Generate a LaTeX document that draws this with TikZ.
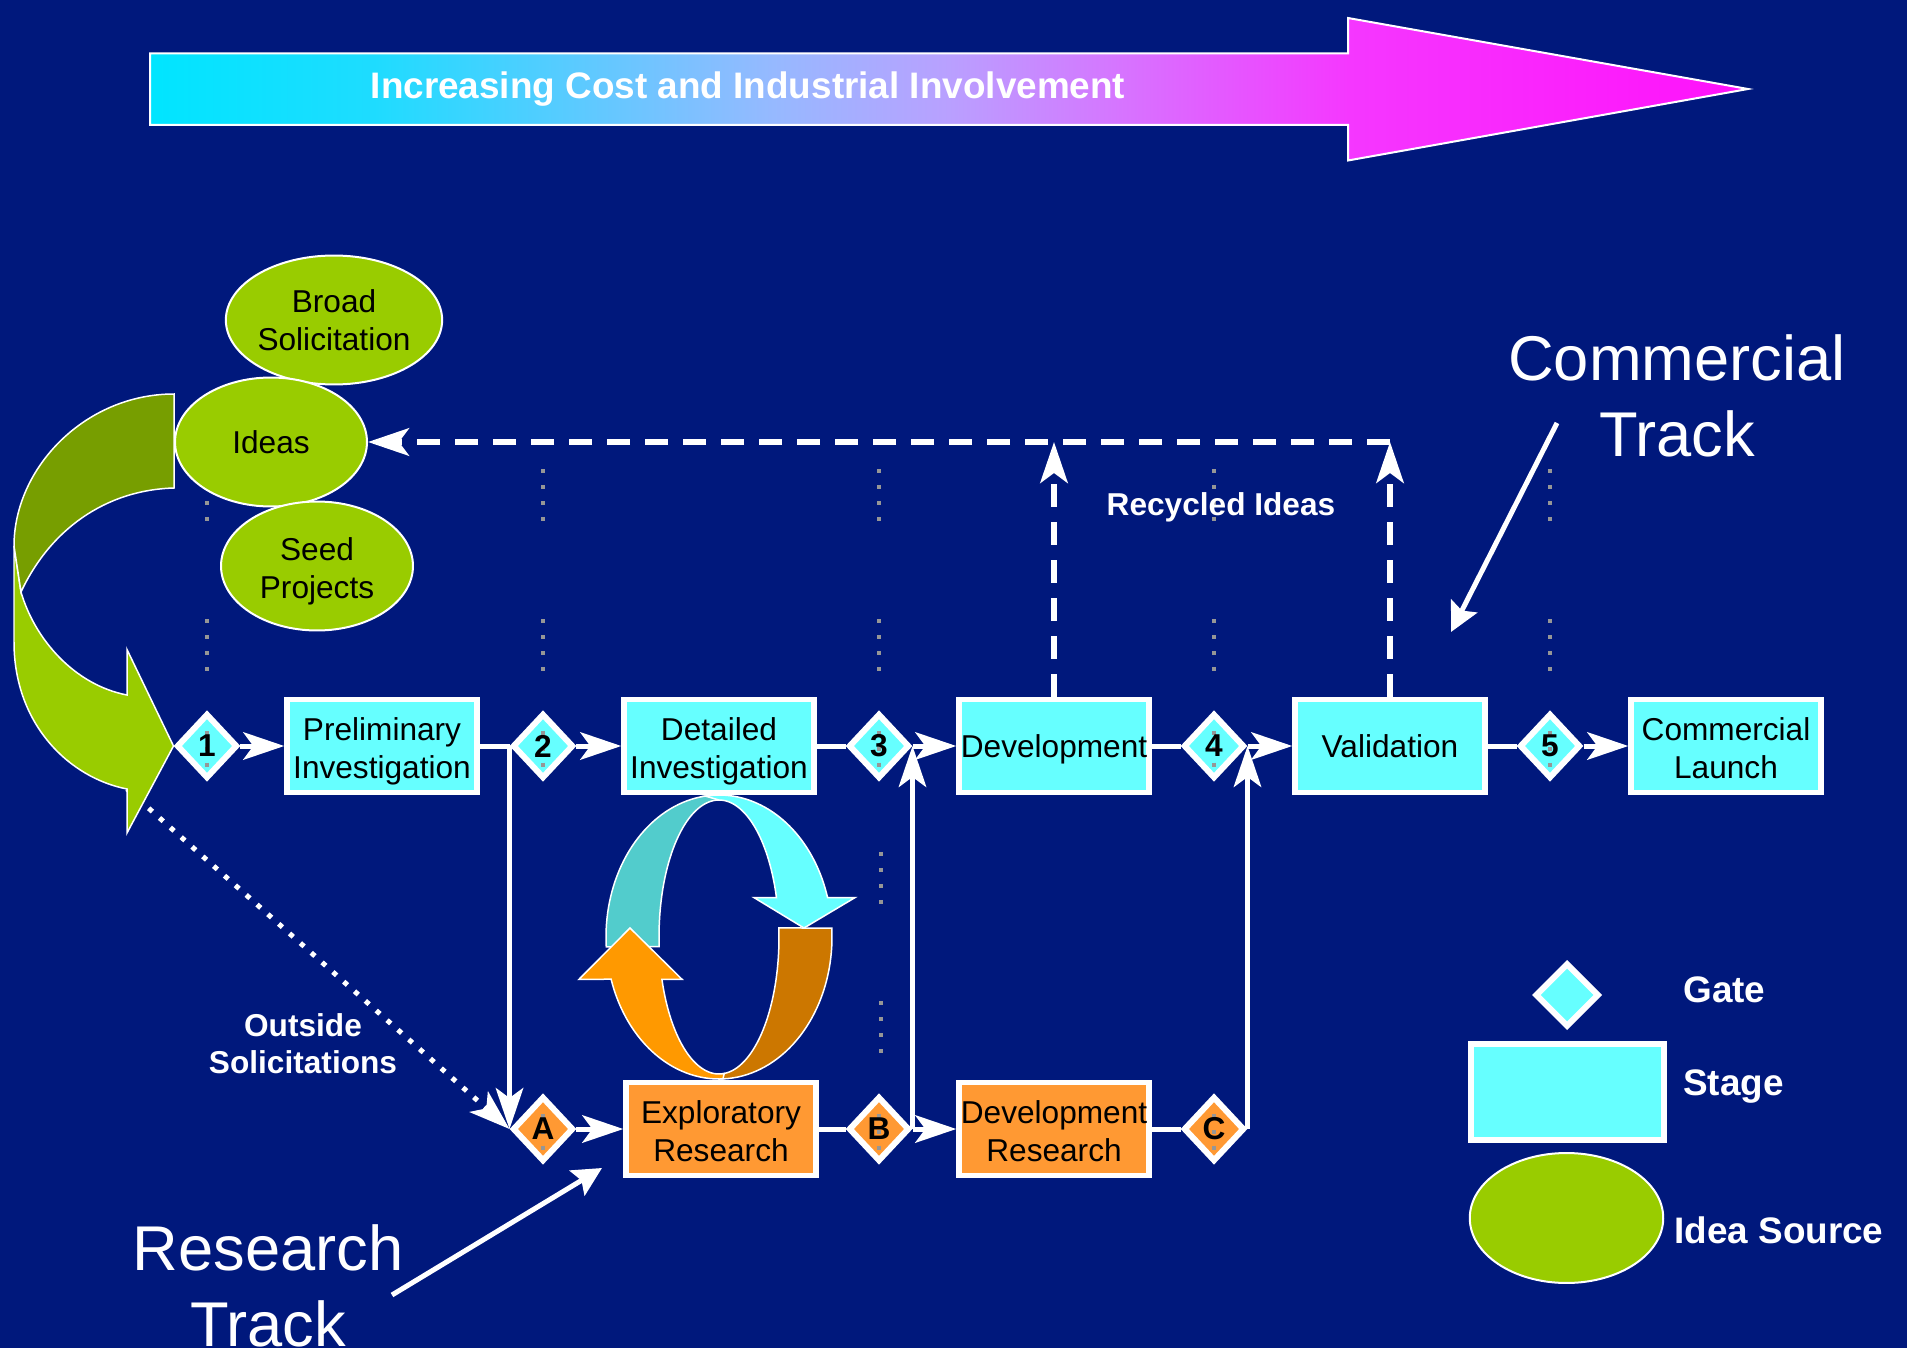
\documentclass[tikz,border=0pt]{standalone}
\usepackage{fontspec}
\setmainfont{Liberation Sans}
\usetikzlibrary{shapes.geometric, arrows.meta}
\definecolor{navybg}{RGB}{0,24,124}
\definecolor{stagecyan}{RGB}{102,255,255}
\definecolor{stageorange}{RGB}{255,153,51}
\definecolor{ideagreen}{RGB}{153,204,0}
\definecolor{darkgreen}{RGB}{119,158,0}
\definecolor{cycleteal}{RGB}{82,204,204}
\definecolor{cycleorange}{RGB}{255,153,0}
\definecolor{cyclebrown}{RGB}{204,119,0}
\definecolor{costcyan}{RGB}{0,229,255}
\definecolor{costsky}{RGB}{30,220,255}
\definecolor{costpale}{RGB}{150,185,255}
\definecolor{costlilac}{RGB}{185,160,255}
\definecolor{costorchid}{RGB}{215,115,255}
\definecolor{costpink}{RGB}{245,55,255}
\definecolor{costmagenta}{RGB}{255,17,250}
\definecolor{dotgray}{RGB}{150,150,150}

\pgfdeclarehorizontalshading{costshade}{100bp}{color(0bp)=(costcyan); color(25bp)=(costcyan);
    color(32bp)=(costsky); color(44.5bp)=(costpale); color(50bp)=(costlilac);
    color(55.5bp)=(costorchid); color(62.5bp)=(costpink); color(75bp)=(costmagenta);
    color(100bp)=(costmagenta)}

\tikzset{
    griddots/.style={dotgray, line width=0.08cm, dash pattern=on 0.08cm off 0.24cm},
    stage/.style={rectangle, draw=white, line width=0.11cm, fill=stagecyan,
        minimum width=3.8cm, minimum height=1.86cm, inner sep=0pt, align=center,
        font=\fontsize{18}{21.5}\selectfont,
        execute at begin node={\rule{0pt}{19pt}}, execute at end node={\strut}},
    twoline/.style={execute at begin node={\rule{0pt}{43.7pt}}, execute at end node={\strut}},
    research/.style={stage, fill=stageorange},
    gatebox/.style={diamond, draw=white, line width=0.12cm, fill=stagecyan,
        minimum width=1.22cm, minimum height=1.3cm, inner sep=0pt,
        font=\fontsize{18}{20}\selectfont\bfseries},
    gate/.style={gatebox, path picture={
        \draw[griddots] (path picture bounding box.north) -- (path picture bounding box.south);}},
    rgate/.style={gate, fill=stageorange},
    source/.style={ellipse, draw=white, line width=0.04cm, fill=ideagreen,
        minimum width=3.84cm, minimum height=2.58cm, inner sep=0pt, align=center,
        font=\fontsize{18}{21.5}\selectfont},
    flow/.style={white, line width=0.1cm},
    flowarrow/.style={flow, -{Stealth[length=0.82cm, width=0.55cm, inset=0.2cm]}},
    recycle/.style={flowarrow, line width=0.11cm, dash pattern=on 0.46cm off 0.3cm},
    outside/.style={flowarrow, dash pattern=on 0.1cm off 0.19cm},
    pointer/.style={white, line width=0.1cm, -{Stealth[length=0.58cm, width=0.58cm, inset=0.1cm]}},
    ribbon/.style={draw=white, line width=0.03cm},
    costarrow/.style={draw=white, line width=0.04cm, shading=costshade},
    whitelabel/.style={text=white, inner sep=0pt, align=center,
        font=\fontsize{18}{21}\selectfont\bfseries},
    legendtext/.style={whitelabel, anchor=west, font=\fontsize{21}{25}\selectfont\bfseries},
    bigtitle/.style={text=white, inner sep=0pt, align=center,
        font=\fontsize{36}{43}\selectfont},
}

\begin{document}
\begin{tikzpicture}[x=0.02cm, y=-0.02cm]
    \useasboundingbox (0, 0) rectangle (1907, 1348);
    \clip (0, 0) rectangle (1907, 1348);
    \fill[navybg] (0, 0) rectangle (1907, 1348);

    % Cost arrow
    \filldraw[costarrow] (150, 53.5) -- (1348, 53.5) -- (1348, 18) -- (1748, 89)
        -- (1348, 160.5) -- (1348, 125) -- (150, 125) -- cycle;
    \node[whitelabel, font=\fontsize{21}{25}\selectfont\bfseries] (costlabel) at (748, 89)
        {Increasing Cost and Industrial Involvement};

    % Grid columns
    \draw[griddots] (207, 469) -- (207, 525);
    \draw[griddots] (207, 619) -- (207, 672);
    \draw[griddots] (543, 469) -- (543, 525);
    \draw[griddots] (543, 619) -- (543, 672);
    \draw[griddots] (879, 469) -- (879, 525);
    \draw[griddots] (879, 619) -- (879, 672);
    \draw[griddots] (1214, 469) -- (1214, 525);
    \draw[griddots] (1214, 619) -- (1214, 672);
    \draw[griddots] (1550, 469) -- (1550, 525);
    \draw[griddots] (1550, 619) -- (1550, 672);
    \draw[griddots] (881, 852) -- (881, 908);
    \draw[griddots] (881, 1001) -- (881, 1055);

    % Commercial track
    \node[gate] (g1) at (207, 746) {1};
    \node[stage, twoline] (prelim) at (382, 746) {Preliminary\\Investigation};
    \node[gate] (g2) at (543, 746) {2};
    \node[stage, twoline] (detailed) at (719, 746) {Detailed\\Investigation};
    \node[gate] (g3) at (879, 746) {3};
    \node[stage] (devel) at (1054, 746) {Development};
    \node[gate] (g4) at (1214, 746) {4};
    \node[stage] (valid) at (1390, 746) {Validation};
    \node[gate] (g5) at (1550, 746) {5};
    \node[stage, twoline] (launch) at (1726, 746) {Commercial\\Launch};

    % Research track
    \node[rgate] (ga) at (543, 1129) {A};
    \node[research, twoline] (explor) at (721, 1129) {Exploratory\\Research};
    \node[rgate] (gb) at (879, 1129) {B};
    \node[research, twoline] (devres) at (1054, 1129) {Development\\Research};
    \node[rgate] (gc) at (1214, 1129) {C};

    \draw[flowarrow] (g1.east) -- (prelim.west);
    \draw[flow] (prelim.east) -- (g2.west);
    \draw[flowarrow] (g2.east) -- (detailed.west);
    \draw[flow] (detailed.east) -- (g3.west);
    \draw[flowarrow] (g3.east) -- (devel.west);
    \draw[flow] (devel.east) -- (g4.west);
    \draw[flowarrow] (g4.east) -- (valid.west);
    \draw[flow] (valid.east) -- (g5.west);
    \draw[flowarrow] (g5.east) -- (launch.west);

    \draw[flowarrow] (g2.west) -- (ga.west);
    \draw[flowarrow] (ga.east) -- (explor.west);
    \draw[flow] (explor.east) -- (gb.west);
    \draw[flowarrow] (gb.east) -- (devres.west);
    \draw[flow] (devres.east) -- (gc.west);
    \draw[flowarrow] (gb.east) -- (g3.east);
    \draw[flowarrow] (gc.east) -- (g4.east);

    % Cycle between the two investigations
    \filldraw[ribbon, fill=cycleteal]
        plot[domain=95:184, samples=40] ({719+113*cos(\x)}, {937-142*sin(\x)})
        -- plot[domain=184:88, samples=40] ({719+60*cos(\x)}, {937-137*sin(\x)}) -- cycle;
    \filldraw[ribbon, fill=cyclebrown]
        plot[domain=-90:3.6, samples=40] ({719+113*cos(\x)}, {937-142*sin(\x)})
        -- plot[domain=3.8:-92, samples=40] ({719+60*cos(\x)}, {937-137*sin(\x)}) -- cycle;
    \filldraw[ribbon, fill=stagecyan]
        plot[domain=97:16.1, samples=40] ({719+113*cos(\x)}, {937-142*sin(\x)})
        -- (855, 897.6) -- (804, 928) -- (754, 897.6)
        -- plot[domain=16.7:90, samples=40] ({719+60*cos(\x)}, {937-137*sin(\x)}) -- cycle;
    \filldraw[ribbon, fill=cycleorange]
        plot[domain=272:197.3, samples=40] ({719+113*cos(\x)}, {937-142*sin(\x)})
        -- (579, 979.3) -- (630, 928) -- (682, 979.3)
        -- plot[domain=198:275, samples=40] ({719+60*cos(\x)}, {937-137*sin(\x)}) -- cycle;

    % Outside solicitations
    \coordinate (wingback) at (127, 789);
    \draw[outside] (wingback) -- (ga.west);
    \node[whitelabel] (outsidelabel) at (303, 1043.5) {Outside\\Solicitations};

    % Idea source arrow
    \filldraw[ribbon, fill=ideagreen] (14, 546) -- (14, 642)
        .. controls (14, 725) and (70, 778) .. (wingback)
        -- (127, 833) -- (g1.west) -- (127, 649.5) -- (127, 695)
        .. controls (75, 685) and (35, 640) .. (21, 592) -- cycle;
    \filldraw[ribbon, fill=darkgreen] (174, 394)
        .. controls (85, 394) and (14, 468) .. (14, 546)
        -- (21, 592) .. controls (50, 530) and (105, 490) .. (174, 488) -- cycle;

    % Idea sources
    \node[source] (broad) at (334, 320) {Broad\\Solicitation};
    \node[source] (ideas) at (271, 442) {Ideas};
    \node[source, twoline] (seed) at (317, 566) {Seed\\Projects};

    % Recycled ideas
    \coordinate (recycleA) at (devel.north |- ideas.east);
    \coordinate (recycleB) at (valid.north |- ideas.east);
    \draw[recycle] (devel.north) -- (recycleA);
    \draw[recycle] (valid.north) -- (recycleB);
    \draw[recycle] (recycleB) -- (ideas.east);
    \node[whitelabel] (recyclelabel) at (1221, 507) {Recycled Ideas};

    % Track titles
    \node[bigtitle] (ctrack) at (1677, 396) {Commercial\\Track};
    \coordinate (ctrackfrom) at (1557, 423);
    \coordinate (ctrackto) at (1451, 632);
    \draw[pointer] (ctrackfrom) -- (ctrackto);
    \node[bigtitle] (rtrack) at (268, 1286) {Research\\Track};
    \coordinate (rtrackfrom) at (392, 1295);
    \coordinate (rtrackto) at (602, 1168);
    \draw[pointer] (rtrackfrom) -- (rtrackto);

    % Legend
    \node[gatebox, minimum width=1.28cm, minimum height=1.28cm] (lgate) at (1567, 995) {};
    \node[stage, minimum width=3.86cm, minimum height=1.92cm] (lstage) at (1567.5, 1092) {};
    \node[source, minimum width=3.87cm, minimum height=2.6cm] (lsource) at (1566.5, 1218) {};
    \node[legendtext] (lgatetext) at (1683, 990) {Gate};
    \node[legendtext] (lstagetext) at (1683, 1087) {Stage};
    \node[legendtext] (lsourcetext) at (1674, 1230) {Idea Source};
\end{tikzpicture}
\end{document}
